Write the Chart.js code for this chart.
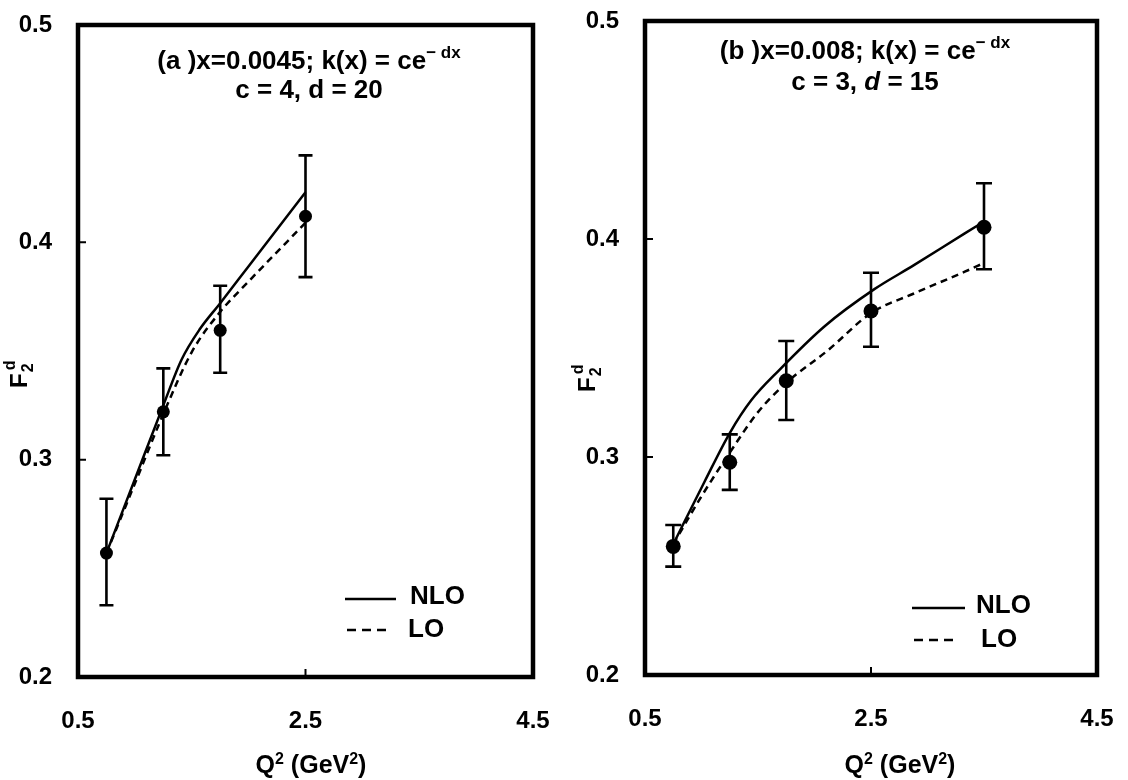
<!DOCTYPE html>
<html><head><meta charset="utf-8">
<script src="https://cdn.jsdelivr.net/npm/chart.js@4.4.1/dist/chart.umd.min.js"></script>
<style>
html,body{margin:0;padding:0;background:#fff;}
#wrap{position:relative;width:1128px;height:780px;overflow:hidden;}
.pane{position:absolute;top:0;width:564px;height:780px;}
canvas{display:block;}
</style></head><body>
<div id="wrap">
<div class="pane" style="left:0"><canvas id="cA" width="564" height="780"></canvas></div>
<div class="pane" style="left:564px"><canvas id="cB" width="564" height="780"></canvas></div>
</div>
<script>
// ---- data ----
const xTicks = [0.5, 2.5, 4.5];
const yTicks = [0.2, 0.3, 0.4, 0.5];

// panel (a)
const aQ2    = [0.75, 1.25, 1.75, 2.5];
const aF2    = [0.257, 0.322, 0.3595, 0.412];
const aErrLo = [0.233, 0.302, 0.340, 0.384];
const aErrHi = [0.282, 0.342, 0.380, 0.440];
const aNloQ2 = [0.75, 1.0, 1.25, 1.41, 1.57, 1.75, 2.0, 2.5];
const aNloF2 = [0.257, 0.291, 0.325, 0.346, 0.360, 0.372, 0.389, 0.423];
const aLoQ2  = [0.75, 1.0, 1.25, 1.5, 1.75, 2.0, 2.5];
const aLoF2  = [0.257, 0.289, 0.321, 0.3495, 0.368, 0.382, 0.409];

// panel (b)
const bQ2    = [0.75, 1.25, 1.75, 2.5, 3.5];
const bF2    = [0.259, 0.2976, 0.335, 0.367, 0.4054];
const bErrLo = [0.2497, 0.2849, 0.317, 0.3506, 0.3861];
const bErrHi = [0.2688, 0.3104, 0.3532, 0.3845, 0.4256];
const bNloQ2 = [0.75, 1.03, 1.25, 1.44, 1.69, 2.09, 2.53, 2.88, 3.33, 3.5];
const bNloF2 = [0.260, 0.289, 0.311, 0.326, 0.340, 0.360, 0.377, 0.388, 0.4026, 0.408];
const bLoQ2  = [0.75, 1.0, 1.25, 1.5, 1.75, 2.12, 2.5, 2.88, 3.33, 3.5];
const bLoF2  = [0.260, 0.282, 0.302, 0.3206, 0.334, 0.349, 0.366, 0.375, 0.385, 0.389];

const FAM = "'Liberation Sans', Arial, Helvetica, sans-serif";

function pts(xs, ys){ return xs.map((v,i)=>({x:v, y:ys[i]})); }

function drawPieces(ctx, pieces, cx, baseY){
  let w = 0;
  pieces.forEach(p=>{ ctx.font = p.f; p.w = ctx.measureText(p.t).width; w += p.w; });
  let x = cx - w/2;
  ctx.textAlign = 'left'; ctx.textBaseline = 'alphabetic';
  pieces.forEach(p=>{ ctx.font = p.f; ctx.fillText(p.t, x, baseY + (p.dy||0)); x += p.w; });
}

function makeDecor(o){
  return {
    id: 'decor',
    afterDatasetsDraw(chart){
      const ctx = chart.ctx, xs = chart.scales.x, ys = chart.scales.y, a = chart.chartArea;
      ctx.save();
      ctx.strokeStyle = '#000'; ctx.fillStyle = '#000';
      // error bars
      ctx.lineWidth = 2.6; ctx.lineCap = 'butt';
      o.q.forEach((q,i)=>{
        const px = xs.getPixelForValue(q);
        const t = ys.getPixelForValue(o.hi[i]), b = ys.getPixelForValue(o.lo[i]);
        ctx.beginPath();
        ctx.moveTo(px, t); ctx.lineTo(px, b);
        ctx.moveTo(px - o.cap, t); ctx.lineTo(px + o.cap, t);
        ctx.moveTo(px - o.cap, b); ctx.lineTo(px + o.cap, b);
        ctx.stroke();
      });
      // frame
      ctx.lineWidth = 4.5;
      ctx.strokeRect(a.left, a.top, a.right - a.left, a.bottom - a.top);
      // inner tick marks
      ctx.lineWidth = 2;
      ctx.beginPath();
      yTicks.forEach(v=>{
        if (v > ys.min && v < ys.max){ const py = ys.getPixelForValue(v); ctx.moveTo(a.left, py); ctx.lineTo(a.left + 8, py); }
      });
      xTicks.forEach(v=>{
        if (v > xs.min && v < xs.max){ const px = xs.getPixelForValue(v); ctx.moveTo(px, a.bottom); ctx.lineTo(px, a.bottom - 8); }
      });
      ctx.stroke();
      // legend
      ctx.lineWidth = 2.6;
      ctx.beginPath(); ctx.moveTo(o.leg.x1, o.leg.y1); ctx.lineTo(o.leg.x2, o.leg.y1); ctx.stroke();
      ctx.setLineDash([9,6]);
      ctx.beginPath(); ctx.moveTo(o.leg.x1 + 2, o.leg.y2); ctx.lineTo(o.leg.x2 - 6, o.leg.y2); ctx.stroke();
      ctx.setLineDash([]);
      ctx.font = 'bold 26px ' + FAM; ctx.textAlign = 'left'; ctx.textBaseline = 'middle';
      ctx.fillText('NLO', o.leg.tx1, o.leg.y1 - 2);
      ctx.fillText('LO', o.leg.tx2, o.leg.y2);
      // title
      drawPieces(ctx, o.title1, o.tcx, o.tb1);
      drawPieces(ctx, o.title2, o.tcx, o.tb2);
      // y title
      ctx.save();
      ctx.translate(o.yt.x, o.yt.y); ctx.rotate(-Math.PI/2);
      ctx.textAlign = 'left'; ctx.textBaseline = 'alphabetic';
      ctx.font = 'bold 24px ' + FAM; ctx.fillText('F', 0, 0);
      const fw = ctx.measureText('F').width;
      ctx.font = 'bold 16px ' + FAM; ctx.fillText('2', fw + 1, 6);
      ctx.fillText('d', fw + 3, -12);
      ctx.restore();
      // x title
      drawPieces(ctx, [
        {t:'Q', f:'bold 25px ' + FAM},
        {t:'2', f:'bold 16px ' + FAM, dy:-9},
        {t:' (GeV', f:'bold 25px ' + FAM},
        {t:'2', f:'bold 16px ' + FAM, dy:-9},
        {t:')', f:'bold 25px ' + FAM}
      ], o.xtcx, 773);
      ctx.restore();
    }
  };
}

function zeroPad(s){ s.paddingTop = 0; s.paddingBottom = 0; s.paddingLeft = 0; s.paddingRight = 0; }

function makeChart(id, d){
  const tickFont = {family: FAM, size: 24, weight: 'bold'};
  return new Chart(document.getElementById(id), {
    data: {
      datasets: [
        {type:'scatter', label:'data', data: pts(d.q, d.f), pointRadius: d.r, pointHoverRadius: d.r,
         backgroundColor:'#000', borderColor:'#000', borderWidth:0, showLine:false},
        {type:'line', label:'NLO', data: pts(d.nq, d.nf), borderColor:'#000', borderWidth:2.5,
         pointRadius:0, fill:false, tension:0.4, cubicInterpolationMode:'monotone'},
        {type:'line', label:'LO', data: pts(d.lq, d.lf), borderColor:'#000', borderWidth:2.5,
         borderDash:[7,5], pointRadius:0, fill:false, tension:0.4, cubicInterpolationMode:'monotone'}
      ]
    },
    options: {
      responsive:false, animation:false, devicePixelRatio:1,
      events: [],
      layout: {padding: {left:0, right:d.padR, top:d.padT, bottom:0}},
      plugins: {legend:{display:false}, tooltip:{enabled:false}, title:{display:false}},
      scales: {
        x: {type:'linear', position:'bottom', min:0.5, max:4.5,
            afterBuildTicks: s => { s.ticks = xTicks.map(v=>({value:v})); },
            afterFit: s => { s.height = d.xh; zeroPad(s); },
            grid:{display:false, drawTicks:false}, border:{display:false},
            ticks:{font:tickFont, color:'#000', padding:30, maxRotation:0, autoSkip:false,
                   callback: v => Number(v).toFixed(1)}},
        y: {type:'linear', position:'left', min:0.2, max:0.5,
            afterBuildTicks: s => { s.ticks = yTicks.map(v=>({value:v})); },
            afterFit: s => { s.width = d.yw; zeroPad(s); },
            grid:{display:false, drawTicks:false}, border:{display:false},
            ticks:{font:tickFont, color:'#000', padding:26,
                   callback: v => Number(v).toFixed(1)}}
      }
    },
    plugins: [makeDecor(d.decor)]
  });
}

makeChart('cA', {
  q:aQ2, f:aF2, nq:aNloQ2, nf:aNloF2, lq:aLoQ2, lf:aLoF2, r:6.5,
  padR: 31, padT: 25, xh: 103, yw: 78,
  decor: {
    q:aQ2, lo:aErrLo, hi:aErrHi, cap:7,
    leg:{x1:345, x2:396, y1:599, y2:630, tx1:410, tx2:408},
    tcx: 309, tb1: 69, tb2: 98,
    title1:[{t:'(a )x=0.0045; k(x) = ce', f:'bold 26px ' + FAM},{t:'\u2212 dx', f:'bold 17px ' + FAM, dy:-11}],
    title2:[{t:'c = 4, d = 20', f:'bold 26px ' + FAM}],
    yt:{x:27, y:388}, xtcx: 311
  }
});

makeChart('cB', {
  q:bQ2, f:bF2, nq:bNloQ2, nf:bNloF2, lq:bLoQ2, lf:bLoF2, r:7.5,
  padR: 31, padT: 21, xh: 105, yw: 81,
  decor: {
    q:bQ2, lo:bErrLo, hi:bErrHi, cap:8,
    leg:{x1:348, x2:401, y1:608, y2:640, tx1:412, tx2:417},
    tcx: 301, tb1: 59, tb2: 90,
    title1:[{t:'(b )x=0.008; k(x) = ce', f:'bold 26px ' + FAM},{t:'\u2212 dx', f:'bold 17px ' + FAM, dy:-11}],
    title2:[{t:'c = 3, ', f:'bold 26px ' + FAM},{t:'d', f:'italic bold 26px ' + FAM},{t:' = 15', f:'bold 26px ' + FAM}],
    yt:{x:31, y:392}, xtcx: 336
  }
});
</script>
</body></html>
